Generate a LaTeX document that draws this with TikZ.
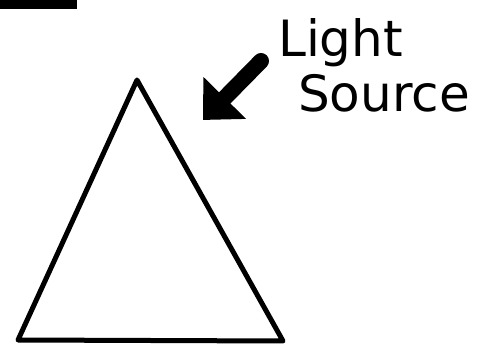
\documentclass[tikz,border=0pt]{standalone}
\usepackage{fontspec}
\setmainfont{DejaVu Sans}
\usetikzlibrary{arrows.meta}

\begin{document}
\begin{tikzpicture}[
    x=1pt, y=-1pt,
    edge/.style={draw, line width=5pt, line join=round, line cap=round},
    pointer/.style={line width=16pt, line cap=round, -{Triangle[length=31pt, width=58pt]}},
    label/.style={inner sep=0pt, anchor=base west, font=\fontsize{50}{52}\selectfont}
]
\useasboundingbox (0,0) rectangle (487,352);
\draw[line width=9pt] (-5,5) -- (77,5);
\coordinate (apex) at (137,80);
\coordinate (left) at (18,340);
\coordinate (right) at (283,341);
\draw[edge] (apex) -- (right) -- (left) -- cycle;
\node[label] (light) at (278,57) {Light};
\node[label] (source) at (298,112) {Source};
\coordinate (tail) at (261,61);
\coordinate (tip) at (203,120);
\draw[pointer] (tail) -- (tip);
\end{tikzpicture}
\end{document}
